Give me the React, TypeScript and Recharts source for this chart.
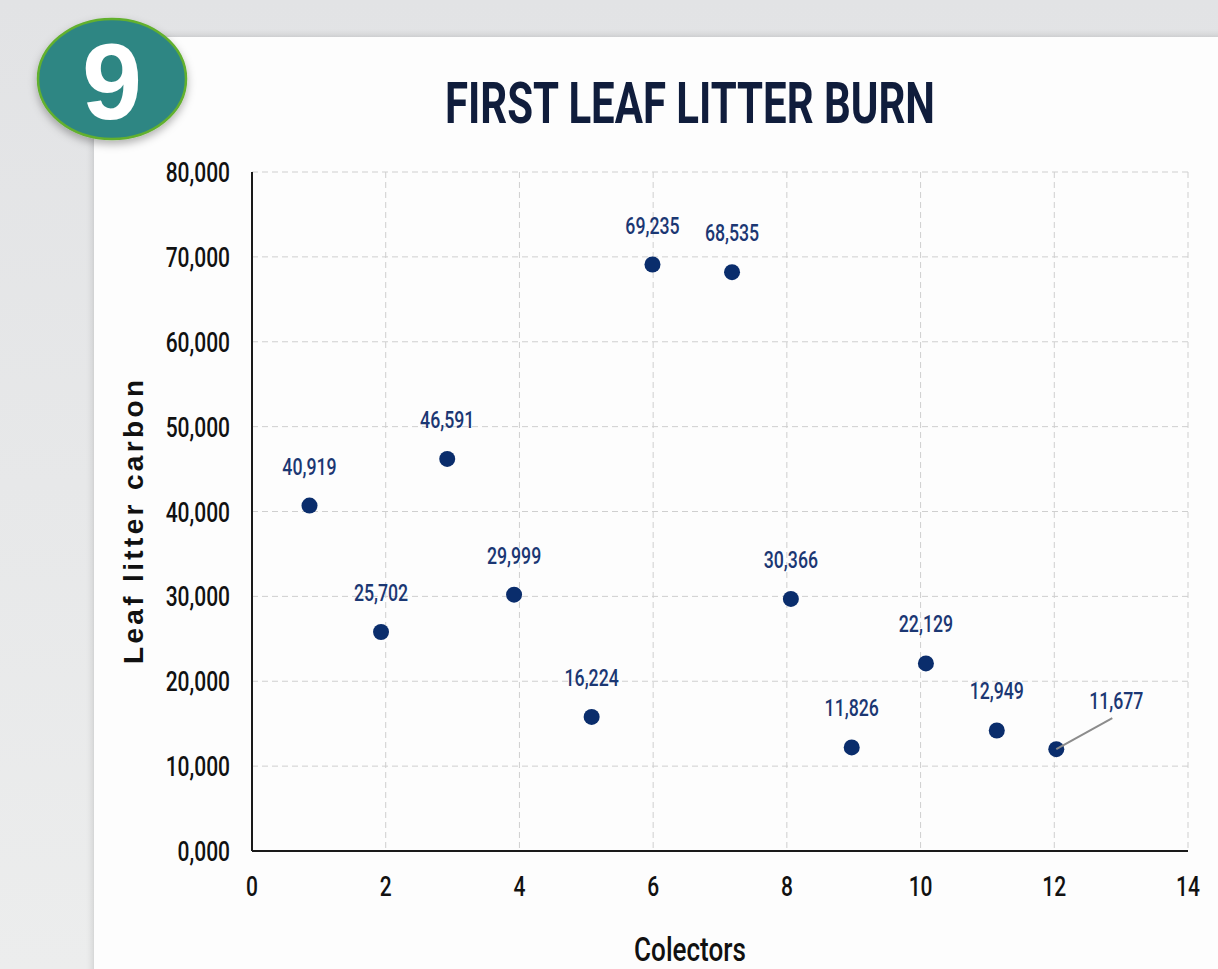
import { ScatterChart, Scatter, XAxis, YAxis, CartesianGrid } from 'recharts';

// collector position (x) and leaf litter carbon (y) as plotted
const collectors = [0.86, 1.93, 2.92, 3.92, 5.08, 5.99, 7.18, 8.06, 8.97, 10.08, 11.14, 12.03];
const carbon = [40700, 25800, 46200, 30200, 15800, 69100, 68200, 29700, 12200, 22100, 14200, 12000];
const valueLabels = [
    '40,919', '25,702', '46,591', '29,999', '16,224', '69,235',
    '68,535', '30,366', '11,826', '22,129', '12,949', '11,677',
];
const xTicks = [0, 2, 4, 6, 8, 10, 12, 14];
const yTicks = [0, 10000, 20000, 30000, 40000, 50000, 60000, 70000, 80000];

// the last point has its label pulled out with a leader line
const calloutIndex = 11;

const data = collectors.map((x, i) => ({
    x,
    y: carbon[i],
    label: valueLabels[i],
    callout: i === calloutIndex,
}));

const ROBOTO = 'Roboto, "Noto Sans", sans-serif';
const SANS = '"Liberation Sans", Arial, sans-serif';
const DOT = '#0a2d6c';
const LABEL = '#1b3773';

const formatY = (v: number) => (v === 0 ? '0,000' : v.toLocaleString('en-US'));

// squeezed text to mimic the condensed face of the original
const NarrowText = ({ x, y, anchor = 'middle', size, squeeze = 0.75, fill = '#111', weight = 500, children }: any) => (
    <text
        transform={`translate(${x},${y}) scale(${squeeze},1)`}
        textAnchor={anchor}
        fontFamily={ROBOTO}
        fontSize={size}
        fontWeight={weight}
        fill={fill}
    >
        {children}
    </text>
);

const XTick = (props: any) => {
    const { x, y, payload } = props;
    return (
        <NarrowText x={x} y={y + 20} size={28}>
            {payload.value}
        </NarrowText>
    );
};

const YTick = (props: any) => {
    const { x, y, payload } = props;
    return (
        <NarrowText x={x} y={y + 10} anchor="end" size={28}>
            {formatY(payload.value)}
        </NarrowText>
    );
};

const PointWithLabel = (props: any) => {
    const { cx, cy, payload } = props;
    if (payload.callout) {
        return (
            <g>
                <circle cx={cx} cy={cy} r={8} fill={DOT} />
                <line x1={cx} y1={cy} x2={cx + 56} y2={cy - 31} stroke="#8c8c8c" strokeWidth={2} />
                <NarrowText x={cx + 60} y={cy - 40} size={23} squeeze={0.77} fill={LABEL}>
                    {payload.label}
                </NarrowText>
            </g>
        );
    }
    return (
        <g>
            <circle cx={cx} cy={cy} r={8} fill={DOT} />
            <NarrowText x={cx} y={cy - 31} size={23} squeeze={0.77} fill={LABEL}>
                {payload.label}
            </NarrowText>
        </g>
    );
};

export default function App() {
    return (
        <div
            style={{
                position: 'absolute',
                left: 0,
                top: 0,
                width: 1218,
                height: 969,
                overflow: 'hidden',
                background: 'linear-gradient(180deg, #e2e3e5 0%, #eceded 100%)',
            }}
        >
            {/* white card */}
            <div
                style={{
                    position: 'absolute',
                    left: 94,
                    top: 37,
                    width: 1140,
                    height: 950,
                    background: '#fdfdfd',
                    boxShadow: '0 0 8px rgba(0,0,0,0.18)',
                }}
            />

            <div style={{ position: 'absolute', left: 0, top: 0 }}>
                <ScatterChart
                    width={1218}
                    height={969}
                    margin={{ top: 172, right: 30, bottom: 0, left: 0 }}
                >
                    <CartesianGrid stroke="#cfcfcf" strokeDasharray="6 4" strokeWidth={1} />
                    <XAxis
                        type="number"
                        dataKey="x"
                        domain={[0, 14]}
                        ticks={xTicks}
                        interval={0}
                        height={118}
                        tickLine={false}
                        tickSize={0}
                        tickMargin={25}
                        axisLine={{ stroke: '#1a1a1a', strokeWidth: 2 }}
                        tick={XTick}
                    />
                    <YAxis
                        type="number"
                        dataKey="y"
                        domain={[0, 80000]}
                        ticks={yTicks}
                        interval={0}
                        width={252}
                        tickLine={false}
                        tickSize={0}
                        tickMargin={22}
                        axisLine={{ stroke: '#1a1a1a', strokeWidth: 2 }}
                        tick={YTick}
                    />
                    <Scatter data={data} fill={DOT} isAnimationActive={false} shape={PointWithLabel} />
                </ScatterChart>
            </div>

            {/* title, badge and axis titles */}
            <svg
                width={1218}
                height={969}
                style={{ position: 'absolute', left: 0, top: 0, pointerEvents: 'none' }}
            >
                <defs>
                    <filter id="badgeShadow" x="-20%" y="-20%" width="140%" height="150%">
                        <feDropShadow dx="0" dy="4" stdDeviation="4" floodColor="#000" floodOpacity="0.3" />
                    </filter>
                </defs>
                <ellipse
                    cx={112}
                    cy={79}
                    rx={74}
                    ry={60}
                    fill="#2f8683"
                    stroke="#62b02f"
                    strokeWidth={2.5}
                    filter="url(#badgeShadow)"
                />
                <text
                    x={112}
                    y={119}
                    textAnchor="middle"
                    fontFamily={SANS}
                    fontWeight="bold"
                    fontSize={108}
                    fill="#ffffff"
                >
                    9
                </text>

                <text
                    x={690}
                    y={123}
                    textAnchor="middle"
                    fontFamily={ROBOTO}
                    fontWeight="bold"
                    fontSize={58}
                    fill="#101d3c"
                    textLength={490}
                    lengthAdjust="spacingAndGlyphs"
                >
                    FIRST LEAF LITTER BURN
                </text>

                <text
                    transform="translate(143,522) rotate(-90)"
                    textAnchor="middle"
                    fontFamily={SANS}
                    fontWeight="bold"
                    fontSize={28}
                    fill="#111"
                    textLength={284}
                    lengthAdjust="spacing"
                >
                    Leaf litter carbon
                </text>

                <NarrowText x={690} y={961} size={33} squeeze={0.79}>
                    Colectors
                </NarrowText>
            </svg>
        </div>
    );
}
